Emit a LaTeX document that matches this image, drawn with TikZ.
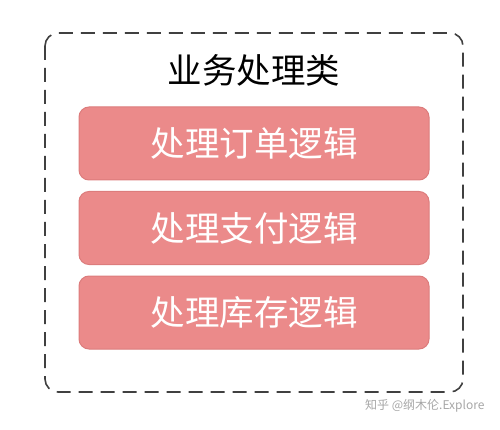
\documentclass[tikz,border=0pt]{standalone}
\usepackage{fontspec}
\newfontfamily\cjk{Noto Sans CJK SC}
\definecolor{boxfill}{HTML}{EB8A8A}
\definecolor{boxline}{HTML}{DC7C7C}
\definecolor{frame}{HTML}{404040}
\tikzset{
  logicbox/.style={draw=boxline, line width=1pt, fill=boxfill, rounded corners=10pt,
    minimum width=350pt, minimum height=73pt, inner sep=0pt,
    font=\cjk\fontsize{34.5}{34.5}\selectfont, text=white},
  groupframe/.style={draw=frame, line width=1.6pt, dash pattern=on 14pt off 8pt, rounded corners=13pt},
  titletext/.style={font=\cjk\fontsize{34.5}{34.5}\selectfont, text=black},
  marktext/.style={font=\cjk\fontsize{12}{12}\selectfont, text=black!35}
}
\begin{document}
\begin{tikzpicture}[x=1pt,y=-1pt]
\useasboundingbox (0,0) rectangle (500,430);
\draw[groupframe] (45,33) rectangle (463,392);
\node[titletext] (title) at (254,70) {业务处理类};
\node[logicbox] (order) at (254,143.5) {处理订单逻辑};
\node[logicbox] (pay) at (254,228) {处理支付逻辑};
\node[logicbox] (stock) at (254,312.5) {处理库存逻辑};
\node[marktext, anchor=east] (mark) at (488,406) {知乎 @纲木伦.Explore};
\end{tikzpicture}
\end{document}
